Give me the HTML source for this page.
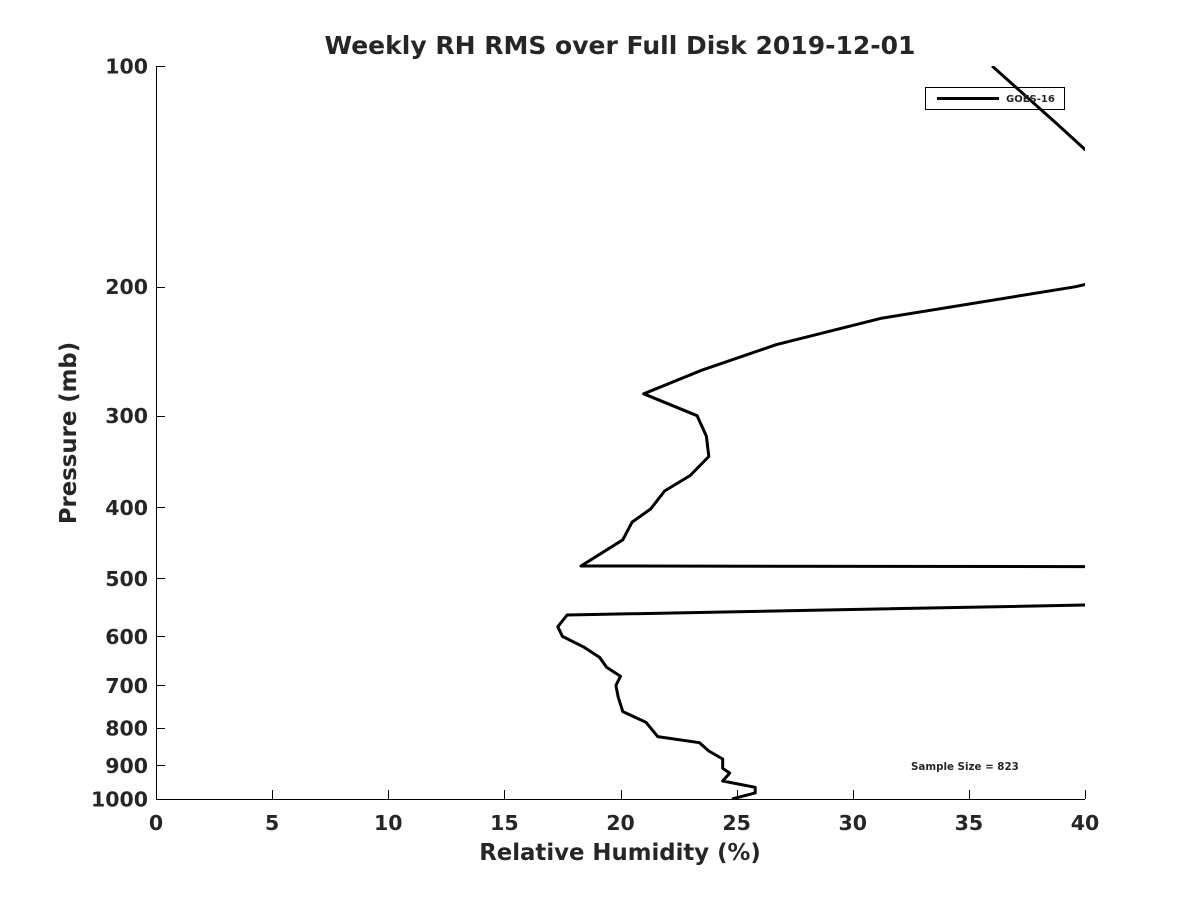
<!DOCTYPE html>
<html><head><meta charset="utf-8"><style>
body{margin:0;background:#fff;}
svg text{font-family:"DejaVu Sans","Liberation Sans",sans-serif;fill:#262626;font-weight:bold;}
</style></head><body>
<svg id="chart" width="1200" height="900" viewBox="0 0 1200 900">
<defs><clipPath id="plotclip"><rect x="156" y="66" width="929" height="733"/></clipPath></defs>
<text x="620" y="54" text-anchor="middle" font-size="25" fill="#000">Weekly RH RMS over Full Disk 2019-12-01</text>
<g id="axes"></g>
<g id="series" clip-path="url(#plotclip)"></g>
<g>
<rect x="925.5" y="87.5" width="139" height="22" fill="none" stroke="#000" stroke-width="1"/>
<line x1="937" y1="98.5" x2="999" y2="98.5" stroke="#000" stroke-width="3"/>
<text x="1006" y="102" font-size="10" fill="#000">GOES-16</text>
</g>
<text x="911" y="770" font-size="10.3" fill="#000">Sample Size = 823</text>
<text x="620" y="860" text-anchor="middle" font-size="22.8">Relative Humidity (%)</text>
<text transform="translate(76,433) rotate(-90)" text-anchor="middle" font-size="22.8">Pressure (mb)</text>
</svg>
<script>
const xTicks = [0,5,10,15,20,25,30,35,40];
const yTicks = [100,200,300,400,500,600,700,800,900,1000];
const pressures = [100,120,130,140,190,197,200,221,240,260,280,300,320,341,362,380,402,419,443,481,482,540,561,582,600,620,641,661,680,700,726,760,786,822,838,860,882,908,922,945,964,981,1000];
const rmsValues = [36.0,38.8,40.0,42,42,40.5,39.6,31.2,26.7,23.5,21.0,23.3,23.7,23.8,23.0,21.9,21.3,20.5,20.1,18.3,45,45,17.7,17.3,17.5,18.4,19.1,19.4,20.0,19.8,19.9,20.1,21.1,21.6,23.4,23.8,24.4,24.4,24.7,24.4,25.8,25.8,24.8];
const X0=156,X1=1085,Y0=66,Y1=799;
function xs(v){return X0+(v-0)/40*(X1-X0);}
function ys(p){return Y0+(Math.log10(p)-2)*(Y1-Y0);}
const NS='http://www.w3.org/2000/svg';
const axes=document.getElementById('axes');
function mk(tag,attrs,parent){const e=document.createElementNS(NS,tag);for(const k in attrs)e.setAttribute(k,attrs[k]);parent.appendChild(e);return e;}
const xl=mk('line',{x1:X0,y1:Y1+0.5,x2:X1,y2:Y1+0.5,stroke:'#000','stroke-width':1},axes);


const yl=mk('line',{x1:X0+0.5,y1:Y0,x2:X0+0.5,y2:Y1,stroke:'#000','stroke-width':1},axes);


xTicks.forEach(t=>{const x=Math.round(xs(t))+0.5;
const tk=mk('line',{x1:x,y1:Y1,x2:x,y2:Y1-9,stroke:'#000','stroke-width':1},axes);


const tx=mk('text',{x:xs(t),y:830,'text-anchor':'middle','font-size':20.5},axes);tx.textContent=t;

});
yTicks.forEach(t=>{const y=Math.round(ys(t))+0.5;
const tk=mk('line',{x1:X0,y1:y,x2:X0+9,y2:y,stroke:'#000','stroke-width':1},axes);


const tx=mk('text',{x:148,y:ys(t)+7.5,'text-anchor':'end','font-size':20.5},axes);tx.textContent=t;

});
const pts=pressures.map((p,i)=>xs(rmsValues[i]).toFixed(1)+','+ys(p).toFixed(1)).join(' ');
const pl=mk('polyline',{points:pts,fill:'none',stroke:'#000','stroke-width':3,'stroke-linejoin':'round'},document.getElementById('series'));


</script>
</body></html>
